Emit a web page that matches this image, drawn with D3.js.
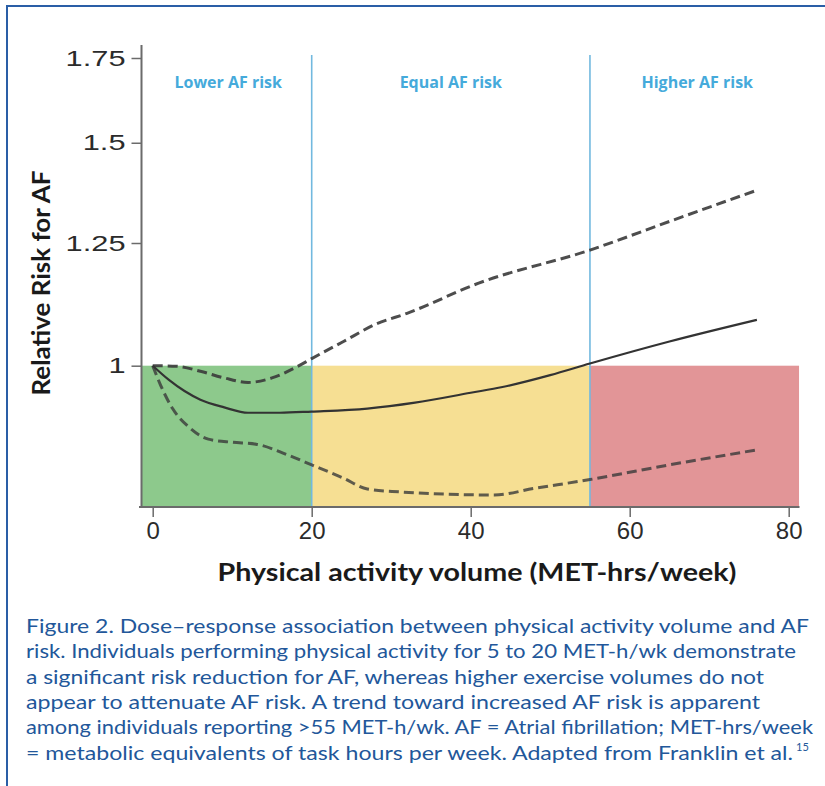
<!DOCTYPE html>
<html>
<head>
<meta charset="utf-8">
<script src="https://cdn.jsdelivr.net/npm/d3@7"></script>
<style>
  body { margin: 0; background: #fff; }
  svg { display: block; }
</style>
</head>
<body>
<svg id="plot" width="825" height="786"></svg>
<script>
// data (x = MET-hrs/week, y = relative risk)
const estX = [0, 2, 4, 6, 9, 12, 16, 20, 27, 33, 40, 44, 50, 55, 65, 76];
const estY = [1, 0.975, 0.955, 0.94, 0.927, 0.918, 0.918, 0.92, 0.925, 0.935, 0.952, 0.962, 0.983, 1.004, 1.045, 1.087];

const upX = [0, 3, 6, 9, 12, 15, 18, 20, 24, 28, 32, 41, 55, 65, 76];
const upY = [1, 0.999, 0.99, 0.978, 0.97, 0.978, 0.997, 1.013, 1.045, 1.078, 1.1, 1.162, 1.234, 1.3, 1.376];

const loX = [0, 1, 2.5, 4.5, 7, 10, 13, 17, 20, 24, 27, 31, 43, 48, 55, 65, 76];
const loY = [1, 0.965, 0.925, 0.895, 0.875, 0.87, 0.867, 0.85, 0.835, 0.815, 0.799, 0.795, 0.7905, 0.8, 0.813, 0.835, 0.858];

const zoneStart = [-1.4, 20, 55];
const zoneEnd = [20, 55, 81.3];
const zoneColor = ["#8dc98c", "#f6df93", "#e29597"];
const zoneLabel = ["Lower AF risk", "Equal AF risk", "Higher AF risk"];
const zoneLabelX = [9.5, 37.5, 68.5];
const dividers = [20, 55];

const xTicks = [0, 20, 40, 60, 80];
const yTicks = [1, 1.25, 1.5, 1.75];

const caption = [
  "Figure 2. Dose\u2013response association between physical activity volume and AF",
  "risk. Individuals performing physical activity for 5 to 20 MET-h/wk demonstrate",
  "a significant risk reduction for AF, whereas higher exercise volumes do not",
  "appear to attenuate AF risk. A trend toward increased AF risk is apparent",
  "among individuals reporting >55 MET-h/wk. AF = Atrial fibrillation; MET-hrs/week",
  "= metabolic equivalents of task hours per week. Adapted from Franklin et al."
];
const captionWidth = [783, 770, 738, 734, 787, 767];

const svg = d3.select("#plot");

// page frame (left + top rule)
svg.append("path")
  .attr("d", "M7,786 V6 H825")
  .attr("fill", "none")
  .attr("stroke", "#2a5ea6")
  .attr("stroke-width", 2);

const x = d3.scaleLinear().domain([0, 80]).range([152.7, 788.7]);
const y = d3.scaleLog().domain([1, 1.75]).range([365.7, 58]);

const axisLeft = 141.5;
const axisBottom = 507;
const yLabStretch = 1.4;

// coloured zones below RR = 1
zoneStart.forEach(function(s, i) {
  svg.append("rect")
    .attr("x", Math.max(x(s), axisLeft))
    .attr("y", y(1))
    .attr("width", x(zoneEnd[i]) - Math.max(x(s), axisLeft))
    .attr("height", axisBottom - y(1))
    .attr("fill", zoneColor[i]);
});

// zone dividers
dividers.forEach(function(d) {
  svg.append("line")
    .attr("x1", x(d)).attr("x2", x(d))
    .attr("y1", 55).attr("y2", axisBottom)
    .attr("stroke", "#72b9df")
    .attr("stroke-width", 1.6);
});

zoneLabel.forEach(function(t, i) {
  svg.append("text")
    .attr("x", x(zoneLabelX[i]))
    .attr("y", 88)
    .attr("text-anchor", "middle")
    .attr("font-family", "Open Sans")
    .attr("font-weight", "bold")
    .attr("font-size", "16px")
    .attr("fill", "#45aadb")
    .text(t);
});

// curves
const line = d3.line()
  .x(d => x(d[0]))
  .y(d => y(d[1]))
  .curve(d3.curveMonotoneX);

svg.append("path")
  .datum(upX.map((v, i) => [v, upY[i]]))
  .attr("d", line)
  .attr("fill", "none")
  .attr("stroke", "#3a3a3a")
  .attr("stroke-opacity", 0.9)
  .attr("stroke-width", 3)
  .attr("stroke-dasharray", "10,5");

svg.append("path")
  .datum(loX.map((v, i) => [v, loY[i]]))
  .attr("d", line)
  .attr("fill", "none")
  .attr("stroke", "#3a3a3a")
  .attr("stroke-opacity", 0.8)
  .attr("stroke-width", 3)
  .attr("stroke-dasharray", "10,5");

svg.append("path")
  .datum(estX.map((v, i) => [v, estY[i]]))
  .attr("d", line)
  .attr("fill", "none")
  .attr("stroke", "#333")
  .attr("stroke-width", 2.2);

// axes
const yAxis = svg.append("g")
  .attr("transform", "translate(" + axisLeft + ",0)")
  .call(d3.axisLeft(y).tickValues(yTicks).tickFormat(d3.format("")).tickSize(10).tickSizeOuter(0));
yAxis.select(".domain").remove();
yAxis.append("line")
  .attr("y1", 45).attr("y2", axisBottom + 1)
  .attr("stroke", "#6b6b6b").attr("stroke-width", 2);
yAxis.selectAll(".tick line").attr("stroke", "#6b6b6b").attr("stroke-width", 1.5);
// the original labels are drawn horizontally stretched
yAxis.selectAll(".tick text")
  .attr("font-family", "Liberation Sans")
  .attr("font-size", "22px")
  .attr("fill", "#2b2b2b")
  .attr("x", -16 / yLabStretch)
  .attr("transform", "scale(" + yLabStretch + ",1)");

const xAxis = svg.append("g")
  .attr("transform", "translate(0," + axisBottom + ")")
  .call(d3.axisBottom(x).tickValues(xTicks).tickSize(10).tickSizeOuter(0));
xAxis.select(".domain").remove();
xAxis.append("line")
  .attr("x1", 139).attr("x2", 799.5)
  .attr("stroke", "#6b6b6b").attr("stroke-width", 2);
xAxis.selectAll(".tick line").attr("stroke", "#6b6b6b").attr("stroke-width", 1.5);
xAxis.selectAll(".tick text")
  .attr("font-family", "Liberation Sans")
  .attr("font-size", "24px")
  .attr("fill", "#2b2b2b")
  .attr("y", 15);

// axis titles
svg.append("text")
  .attr("x", 477)
  .attr("y", 581)
  .attr("text-anchor", "middle")
  .attr("font-family", "Lato")
  .attr("font-weight", "bold")
  .attr("font-size", "25px")
  .attr("fill", "#1a1a1a")
  .attr("textLength", 519)
  .attr("lengthAdjust", "spacingAndGlyphs")
  .text("Physical activity volume (MET-hrs/week)");

svg.append("text")
  .attr("transform", "translate(50,283) rotate(-90)")
  .attr("text-anchor", "middle")
  .attr("font-family", "Lato")
  .attr("font-weight", "bold")
  .attr("font-size", "25px")
  .attr("fill", "#1a1a1a")
  .attr("textLength", 225)
  .attr("lengthAdjust", "spacingAndGlyphs")
  .text("Relative Risk for AF");

// caption
caption.forEach(function(t, i) {
  svg.append("text")
    .attr("x", 26)
    .attr("y", 633 + i * 25.3)
    .attr("font-family", "Lato")
    .attr("font-size", "20px")
    .attr("fill", "#22579a")
    .attr("textLength", captionWidth[i])
    .attr("lengthAdjust", "spacingAndGlyphs")
    .text(t);
});
svg.append("text")
  .attr("x", 796)
  .attr("y", 751)
  .attr("font-family", "Lato")
  .attr("font-size", "11px")
  .attr("fill", "#22579a")
  .text("15");
</script>
</body>
</html>
